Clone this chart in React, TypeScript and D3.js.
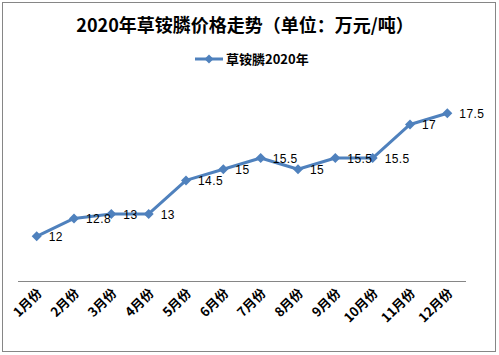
import React from "react";
import * as d3 from "d3";

const months = ["1月份", "2月份", "3月份", "4月份", "5月份", "6月份", "7月份", "8月份", "9月份", "10月份", "11月份", "12月份"];
const prices = [12, 12.8, 13, 13, 14.5, 15, 15.5, 15, 15.5, 15.5, 17, 17.5];
const seriesName = "草铵膦2020年";
const title = "2020年草铵膦价格走势（单位：万元/吨）";

const W = 499, H = 355;
const FONT = "'Noto Sans CJK SC', 'DejaVu Sans', sans-serif";
const LABEL_FONT = "'Liberation Sans', 'Noto Sans CJK SC', sans-serif";
const COLOR = "#4F81BD";

export default function App() {
  const x = d3.scaleBand<string>().domain(months).range([18, 466]);
  const y = d3.scaleLinear().domain([10, 20]).range([281, 57.4]);
  const cx = (m: string) => (x(m) ?? 0) + x.bandwidth() / 2;
  const line = d3.line<number>().x((_, i) => cx(months[i])).y((d) => y(d));
  const diamond = (px: number, py: number, r: number) =>
    `M${px},${py - r}L${px + r},${py}L${px},${py + r}L${px - r},${py}Z`;

  return (
    <svg width={W} height={H} style={{ position: "absolute", left: 0, top: 0 }}>
      <rect x={0} y={0} width={W} height={H} fill="#fff" />
      <rect x={2.5} y={2.5} width={493} height={349} fill="#fff" stroke="#868686" strokeWidth={1} />
      <text x={245} y={32} textAnchor="middle" fontFamily={FONT} fontWeight="bold" fontSize={18} fill="#000">
        {title}
      </text>
      <g>
        <line x1={195} x2={223} y1={59} y2={59} stroke={COLOR} strokeWidth={3} />
        <path d={diamond(209, 59, 4.5)} fill={COLOR} />
        <text x={226} y={63.5} fontFamily={FONT} fontWeight="bold" fontSize={13} fill="#000">
          {seriesName}
        </text>
      </g>
      <line x1={18} x2={466} y1={281.5} y2={281.5} stroke="#868686" strokeWidth={1} />
      {months.map((m) => (
        <text
          key={m}
          transform={`translate(${cx(m) + 6},${294}) rotate(-45)`}
          textAnchor="end"
          fontFamily={FONT}
          fontWeight="bold"
          fontSize={13}
          fill="#000"
        >
          {m}
        </text>
      ))}
      <path d={line(prices) ?? ""} fill="none" stroke={COLOR} strokeWidth={3} strokeLinejoin="round" />
      {prices.map((v, i) => (
        <path key={i} d={diamond(cx(months[i]), y(v), 5)} fill={COLOR} />
      ))}
      {prices.map((v, i) => (
        <text
          key={"l" + i}
          x={cx(months[i]) + 12}
          y={y(v) + 5}
          fontFamily={LABEL_FONT}
          fontSize={12}
          letterSpacing={0.4}
          fill="#000"
        >
          {String(v)}
        </text>
      ))}
    </svg>
  );
}
